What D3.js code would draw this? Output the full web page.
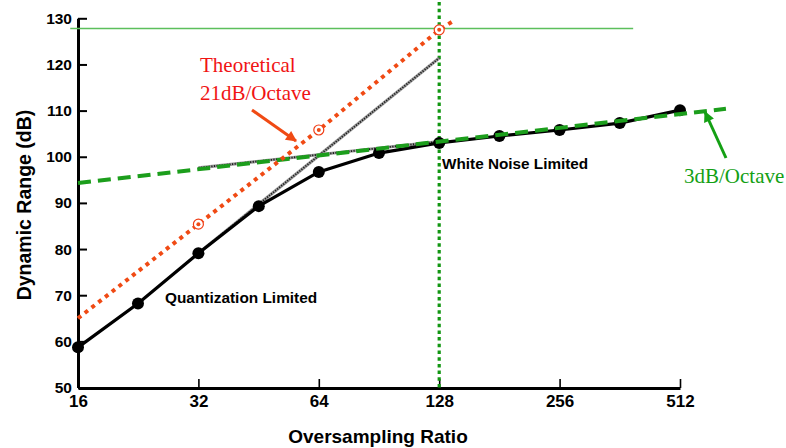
<!DOCTYPE html>
<html>
<head>
<meta charset="utf-8">
<script src="https://cdn.jsdelivr.net/npm/d3@7"></script>
<style>
  html, body { margin: 0; padding: 0; background: #fff; }
  svg { display: block; }
  .axis text { font-family: "Liberation Sans", Arial, sans-serif; font-weight: bold; fill: #000; }
</style>
</head>
<body>
<svg id="chart" width="786" height="448"></svg>
<script>
// ---- data ----
const xTicks = [16, 32, 64, 128, 256, 512];
const yTicks = [50, 60, 70, 80, 90, 100, 110, 120, 130];

// measured dynamic range (black curve)
const ratio    = [16, 22.6, 32, 45.3, 64, 90.5, 128, 181, 256, 362, 512];
const dynRange = [58.7, 68.2, 79.1, 89.3, 96.7, 100.8, 103.0, 104.5, 105.8, 107.3, 110.1];

// theoretical 21 dB/octave (red dotted)
const theoRatio = [16, 32, 64, 128, 140];
const theoDb    = [65.0, 85.4, 105.8, 127.5, 129.6];
const theoMarkRatio = [32, 64, 128];
const theoMarkDb    = [85.4, 105.8, 127.5];

// quantization-limited asymptote (gray hatched)
const quantRatio = [32, 128];
const quantDb    = [79.1, 121.4];

// white-noise asymptote (gray hatched)
const wnRatio = [32, 128];
const wnDb    = [97.6, 103.3];

// 3 dB/octave (green dashed)
const octRatio = [16, 667];
const octDb    = [94.3, 110.4];

// reference lines
const hLineRatio = [15.3, 391];
const hLineDb    = 127.8;
const vLineRatio = 128;
const vLineDb    = [50, 134];

// ---- layout ----
const svg = d3.select("#chart");
const x = d3.scaleLog().base(2).domain([16, 512]).range([78, 680]);
const y = d3.scaleLinear().domain([50, 130]).range([387.5, 18.3]);

const line = d3.line().x(d => x(d[0])).y(d => y(d[1]));
const zip = (a, b) => a.map((v, i) => [v, b[i]]);

const defs = svg.append("defs");
function arrowMarker(id, color) {
  defs.append("marker")
    .attr("id", id).attr("viewBox", "0 0 10 10")
    .attr("refX", 9).attr("refY", 5)
    .attr("markerWidth", 4.2).attr("markerHeight", 3.6)
    .attr("markerUnits", "strokeWidth")
    .attr("orient", "auto")
    .append("path").attr("d", "M0,0 L10,5 L0,10 Z").attr("fill", color);
}
arrowMarker("arrRed", "#f04a14");
arrowMarker("arrGreen", "#14a014");

// ---- axes ----
const yAxis = d3.axisLeft(y).tickValues(yTicks).tickSizeInner(-9).tickSizeOuter(0).tickPadding(6);
const gy = svg.append("g").attr("class", "axis").attr("transform", "translate(78,0)").call(yAxis);
gy.selectAll("text").style("font-size", "15.5px");
gy.select(".domain").attr("stroke-width", 3);
gy.selectAll(".tick line").attr("stroke-width", 2);

const xAxis = d3.axisBottom(x).tickValues(xTicks).tickFormat(d3.format("d"))
  .tickSizeInner(-9).tickSizeOuter(0).tickPadding(7);
const gx = svg.append("g").attr("class", "axis").attr("transform", "translate(0,388)").call(xAxis);
gx.selectAll("text").style("font-size", "17px");
gx.select(".domain").attr("stroke-width", 3);
gx.selectAll(".tick line").attr("stroke-width", 1.6);

// axis titles
svg.append("text")
  .attr("x", 378).attr("y", 443)
  .attr("text-anchor", "middle")
  .style("font-family", "'Liberation Sans', Arial, sans-serif")
  .style("font-weight", "bold").style("font-size", "19px")
  .text("Oversampling Ratio");

svg.append("text")
  .attr("transform", "translate(31,205) rotate(-90)")
  .attr("text-anchor", "middle")
  .style("font-family", "'Liberation Sans', Arial, sans-serif")
  .style("font-weight", "bold").style("font-size", "19.5px")
  .text("Dynamic Range (dB)");

// ---- reference lines ----
svg.append("path")
  .attr("d", line(hLineRatio.map(r => [r, hLineDb])))
  .attr("fill", "none").attr("stroke", "#5cbf5c").attr("stroke-width", 1.5);

svg.append("path")
  .attr("d", line(vLineDb.map(v => [vLineRatio, v])))
  .attr("fill", "none").attr("stroke", "#129612").attr("stroke-width", 3.2)
  .attr("stroke-dasharray", "3.5,3.2");

// ---- asymptotes (gray hatched) ----
function hatched(data) {
  svg.append("path").attr("d", line(data))
    .attr("fill", "none").attr("stroke", "#9a9a9a").attr("stroke-width", 3.2);
  svg.append("path").attr("d", line(data))
    .attr("fill", "none").attr("stroke", "#1a1a1a").attr("stroke-width", 1.8)
    .attr("stroke-dasharray", "1.2,1.4");
}
hatched(zip(quantRatio, quantDb));
hatched(zip(wnRatio, wnDb));

// ---- measured curve ----
svg.append("path").attr("d", line(zip(ratio, dynRange)))
  .attr("fill", "none").attr("stroke", "#000").attr("stroke-width", 3.2);
svg.selectAll("circle.pt").data(zip(ratio, dynRange)).enter()
  .append("circle").attr("class", "pt")
  .attr("cx", d => x(d[0])).attr("cy", d => y(d[1])).attr("r", 6)
  .attr("fill", "#000");

// ---- 3 dB/octave green dashed ----
svg.append("path").attr("d", line(zip(octRatio, octDb)))
  .attr("fill", "none").attr("stroke", "#1c9e1c").attr("stroke-width", 4)
  .attr("stroke-dasharray", "13,7");

// ---- theoretical 21 dB/octave red dotted ----
svg.append("path").attr("d", line(zip(theoRatio, theoDb)))
  .attr("fill", "none").attr("stroke", "#f04a14").attr("stroke-width", 4)
  .attr("stroke-dasharray", "4,4.6");
const theoMarks = svg.selectAll("g.theo").data(zip(theoMarkRatio, theoMarkDb)).enter()
  .append("g").attr("class", "theo")
  .attr("transform", d => `translate(${x(d[0])},${y(d[1])})`);
theoMarks.append("circle").attr("r", 5)
  .attr("fill", "#fff").attr("stroke", "#f03c14").attr("stroke-width", 1.2);
theoMarks.append("circle").attr("r", 2)
  .attr("fill", "#f04a14");

// ---- annotations ----
const serif = "'Liberation Serif', 'Times New Roman', serif";
svg.append("text").attr("x", 200).attr("y", 72)
  .style("font-family", serif).style("font-size", "21px").attr("fill", "#f01414")
  .text("Theoretical");
svg.append("text").attr("x", 200).attr("y", 100)
  .style("font-family", serif).style("font-size", "21px").attr("fill", "#f01414")
  .text("21dB/Octave");
svg.append("line").attr("x1", 252).attr("y1", 110).attr("x2", 296).attr("y2", 141)
  .attr("stroke", "#f04a14").attr("stroke-width", 3).attr("marker-end", "url(#arrRed)");

svg.append("text").attr("x", 684).attr("y", 183)
  .style("font-family", serif).style("font-size", "21px").attr("fill", "#14a014")
  .text("3dB/Octave");
svg.append("line").attr("x1", 726).attr("y1", 158).attr("x2", 705).attr("y2", 112)
  .attr("stroke", "#14a014").attr("stroke-width", 3).attr("marker-end", "url(#arrGreen)");

const sans = "'Liberation Sans', Arial, sans-serif";
svg.append("text").attr("x", 442).attr("y", 169)
  .style("font-family", sans).style("font-weight", "bold").style("font-size", "15.3px")
  .text("White Noise Limited");
svg.append("text").attr("x", 165).attr("y", 303)
  .style("font-family", sans).style("font-weight", "bold").style("font-size", "15.4px")
  .text("Quantization Limited");
</script>
</body>
</html>
